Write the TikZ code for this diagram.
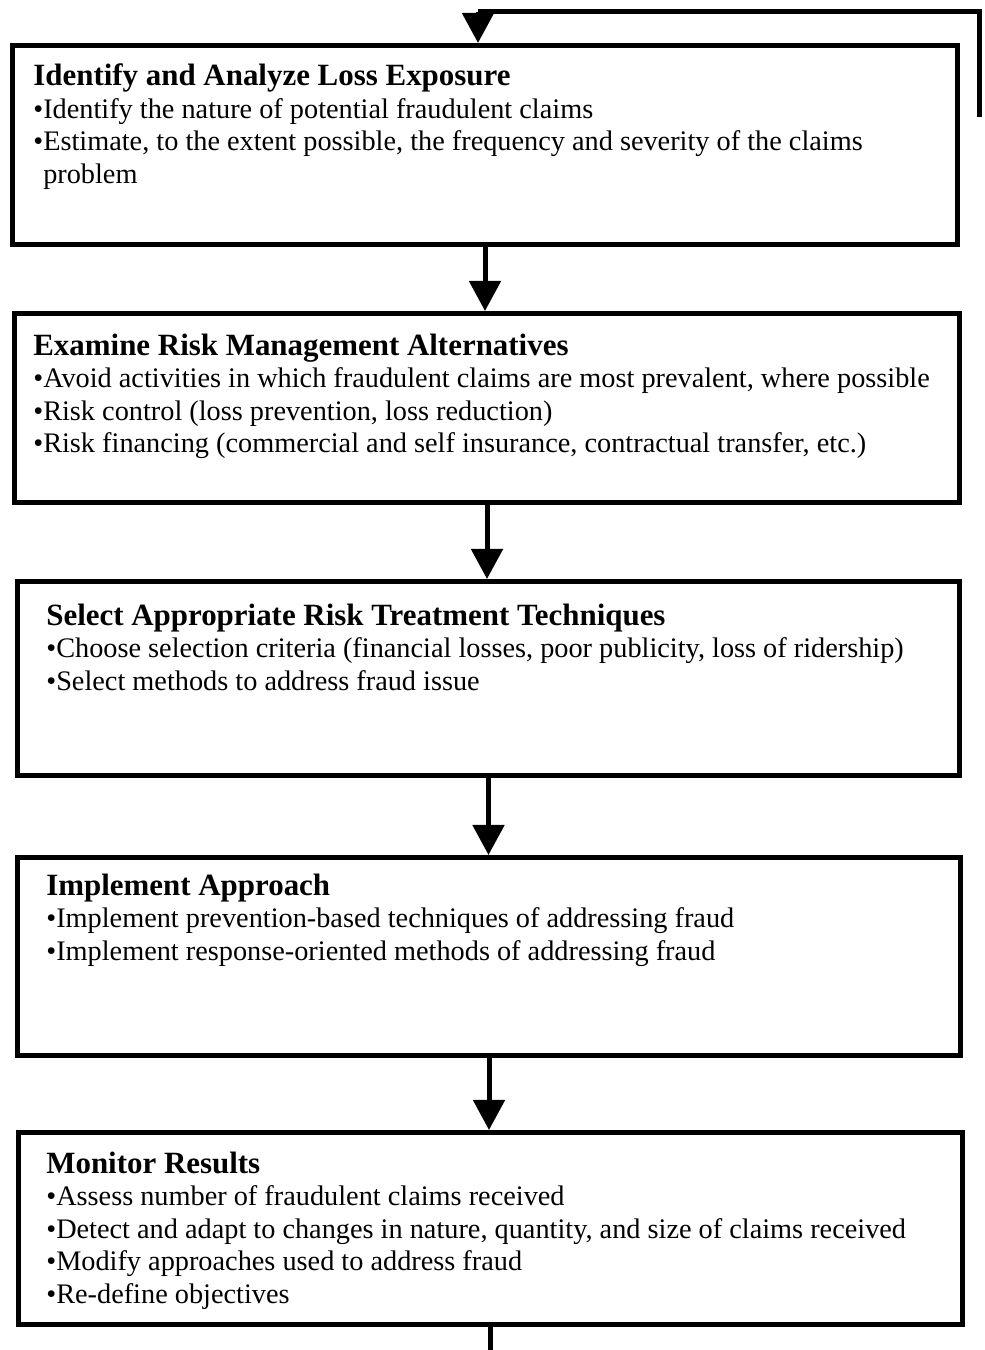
\documentclass[tikz,border=0pt]{standalone}
\usepackage{fontspec}
\setmainfont{Liberation Serif}
\usetikzlibrary{positioning,arrows.meta}

\newcommand{\headfont}{\fontsize{17.6}{18.5}\selectfont\bfseries}
\newcommand{\bodyfont}{\fontsize{16.1}{18.5}\selectfont}

\tikzset{
    stepbox/.style={draw, line width=0.1cm, inner sep=0pt, anchor=north west,
        minimum height=3.9cm},
    boxtext/.style={inner sep=0pt, align=left, font=\bodyfont},
    flow/.style={line width=0.1cm, -{Triangle[width=0.62cm,length=0.6cm]}},
    loopline/.style={line width=0.1cm}
}

\begin{document}
\begin{tikzpicture}
    \useasboundingbox (0,0) rectangle (19.7,27);

    % the five boxes
    \node[stepbox, minimum width=18.90cm, minimum height=3.98cm] (b1) at (0.20,26.14) {};
    \node[stepbox, minimum width=18.90cm, minimum height=3.78cm] (b2) at (0.24,20.78) {};
    \node[stepbox, minimum width=18.84cm, minimum height=3.88cm] (b3) at (0.30,15.42) {};
    \node[stepbox, minimum width=18.86cm, minimum height=3.96cm] (b4) at (0.30,9.90) {};
    \node[stepbox, minimum width=18.88cm, minimum height=3.84cm] (b5) at (0.32,4.40) {};

    % texts
    \node[boxtext, below right=0.41cm and 0.46cm of b1.north west] (t1) {%
        {\headfont Identify and Analyze Loss Exposure}\\
        •Identify the nature of potential fraudulent claims\\
        •Estimate, to the extent possible, the frequency and severity of the claims\\
        \hspace*{0.35em}problem};
    \node[boxtext, below right=0.45cm and 0.42cm of b2.north west] (t2) {%
        {\headfont Examine Risk Management Alternatives}\\
        •Avoid activities in which fraudulent claims are most prevalent, where possible\\
        •Risk control (loss prevention, loss reduction)\\
        •Risk financing (commercial and self insurance, contractual transfer, etc.)};
    \node[boxtext, below right=0.49cm and 0.62cm of b3.north west] (t3) {%
        {\headfont Select Appropriate Risk Treatment Techniques}\\
        •Choose selection criteria (financial losses, poor publicity, loss of ridership)\\
        •Select methods to address fraud issue};
    \node[boxtext, below right=0.37cm and 0.62cm of b4.north west] (t4) {%
        {\headfont Implement Approach}\\
        •Implement prevention-based techniques of addressing fraud\\
        •Implement response-oriented methods of addressing fraud};
    \node[boxtext, below right=0.43cm and 0.60cm of b5.north west] (t5) {%
        {\headfont Monitor Results}\\
        •Assess number of fraudulent claims received\\
        •Detect and adapt to changes in nature, quantity, and size of claims received\\
        •Modify approaches used to address fraud\\
        •Re-define objectives};

    % arrows between boxes
    \draw[flow] (b1.south) -- (b1.south |- b2.north);
    \draw[flow] (b2.south) -- (b2.south |- b3.north);
    \draw[flow] (b3.south) -- (b3.south |- b4.north);
    \draw[flow] (b4.south) -- (b4.south |- b5.north);

    % feedback loop (runs off the page)
    \coordinate (loopout) at (9.74,-0.5);
    \coordinate (loopin) at (19.58,24.66);
    \coordinate (loopcorner) at (19.58,26.76);
    \coordinate (looptop) at (9.56,26.76);
    \draw[loopline] (b5.south) -- (b5.south |- loopout);
    \draw[loopline] (loopin) -- (loopcorner) -- (looptop);
    \draw[flow] (looptop) -- (looptop |- b1.north);
\end{tikzpicture}
\end{document}
